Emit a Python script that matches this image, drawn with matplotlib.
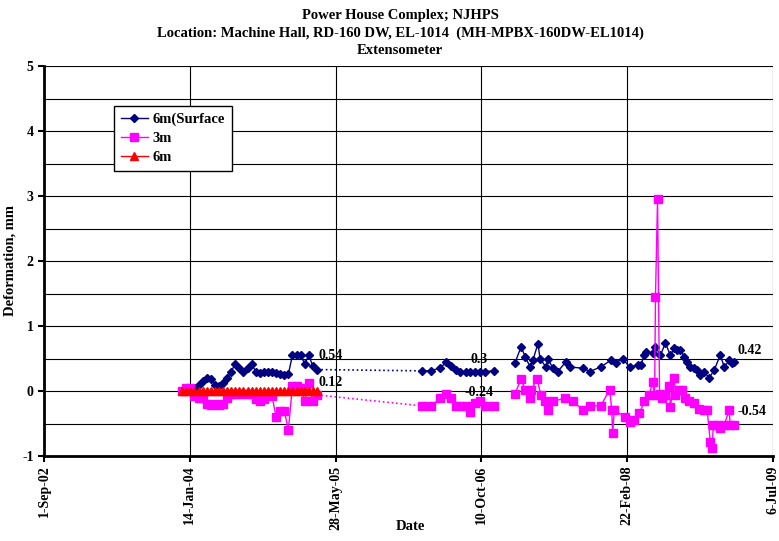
import numpy as np
import pandas as pd
import matplotlib as mpl
import matplotlib.pyplot as plt
import matplotlib.dates as mdates
from matplotlib.ticker import FuncFormatter

mpl.use('Agg')

plt.rcParams['font.family'] = ['Liberation Serif', 'DejaVu Serif']
plt.rcParams['font.weight'] = 'bold'
plt.rcParams['axes.unicode_minus'] = False

# readings, Dec-2003 .. Mar-2005 (all three series)
seg1_dates = ['2003-12-19', '2004-01-02', '2004-01-16', '2004-01-30', '2004-02-13', '2004-02-27',
              '2004-03-12', '2004-03-26', '2004-04-09', '2004-04-23', '2004-05-07', '2004-05-21',
              '2004-06-04', '2004-06-18', '2004-07-02', '2004-07-16', '2004-07-30', '2004-08-13',
              '2004-08-27', '2004-09-10', '2004-09-24', '2004-10-08', '2004-10-22', '2004-11-05',
              '2004-11-19', '2004-12-03', '2004-12-17', '2004-12-31', '2005-01-14', '2005-01-28',
              '2005-02-11', '2005-02-25', '2005-03-11', '2005-03-25']
seg1_surface = [0.0, 0.02, 0.03, 0.05, 0.1, 0.15, 0.2, 0.18, 0.1, 0.08, 0.13, 0.2,
                0.3, 0.42, 0.35, 0.3, 0.35, 0.42, 0.3, 0.28, 0.3, 0.3, 0.3, 0.28,
                0.26, 0.25, 0.26, 0.55, 0.55, 0.55, 0.42, 0.55, 0.38, 0.33]
seg1_3m = [0.0, 0.05, 0.05, -0.08, -0.1, -0.1, -0.2, -0.22, -0.2, -0.22, -0.2, -0.1,
           -0.05, -0.05, -0.05, -0.05, -0.05, -0.05, -0.12, -0.15, -0.12, -0.05, -0.08, -0.4,
           -0.3, -0.3, -0.6, 0.08, 0.08, 0.05, -0.15, 0.12, -0.15, -0.06]
seg1_6m = [0.0] * len(seg1_dates)

# readings, Mar-2006 .. Nov-2006
seg2_dates = ['2006-03-22', '2006-04-21', '2006-05-22', '2006-06-12', '2006-06-29', '2006-07-16',
              '2006-07-30', '2006-08-19', '2006-09-02', '2006-09-19', '2006-10-06', '2006-10-23',
              '2006-11-23']
seg2_surface = [0.31, 0.31, 0.36, 0.44, 0.38, 0.33, 0.3, 0.3, 0.3, 0.3, 0.3, 0.3, 0.31]
seg2_3m = [-0.23, -0.23, -0.11, -0.04, -0.11, -0.23, -0.23, -0.23, -0.33, -0.19, -0.16, -0.23, -0.23]

# readings, Feb-2007 .. Feb-2009
seg3_surface_dates = ['2007-02-02', '2007-02-23', '2007-03-09', '2007-03-26', '2007-04-05', '2007-04-22',
                      '2007-04-29', '2007-05-19', '2007-05-26', '2007-06-12', '2007-06-29', '2007-07-27',
                      '2007-08-09', '2007-09-23', '2007-10-17', '2007-11-23', '2007-12-27', '2008-01-13',
                      '2008-02-06', '2008-03-01', '2008-03-29', '2008-04-08', '2008-04-21', '2008-04-25',
                      '2008-05-19', '2008-05-29', '2008-06-15', '2008-07-02', '2008-07-19', '2008-08-02',
                      '2008-08-12', '2008-08-22', '2008-09-05', '2008-09-15', '2008-09-25', '2008-10-09',
                      '2008-10-19', '2008-10-29', '2008-11-12', '2008-11-29', '2008-12-16', '2009-01-06',
                      '2009-01-20', '2009-02-06', '2009-02-16', '2009-02-23']
seg3_surface = [0.43, 0.68, 0.53, 0.37, 0.48, 0.73, 0.5, 0.37, 0.5, 0.35, 0.3, 0.45,
                0.37, 0.35, 0.3, 0.37, 0.47, 0.43, 0.5, 0.37, 0.4, 0.4, 0.55, 0.6,
                0.58, 0.68, 0.55, 0.74, 0.55, 0.66, 0.63, 0.63, 0.53, 0.45, 0.37, 0.35,
                0.32, 0.25, 0.3, 0.2, 0.32, 0.55, 0.37, 0.47, 0.43, 0.45]
seg3_3m_dates = ['2007-02-02', '2007-02-23', '2007-03-09', '2007-03-26', '2007-03-29', '2007-04-19',
                 '2007-05-02', '2007-05-16', '2007-05-26', '2007-06-12', '2007-07-23', '2007-08-20',
                 '2007-09-23', '2007-10-17', '2007-11-23', '2007-12-24', '2007-12-31', '2008-01-03',
                 '2008-01-09', '2008-02-13', '2008-03-01', '2008-03-18', '2008-04-04', '2008-04-21',
                 '2008-05-08', '2008-05-19', '2008-05-26', '2008-05-29', '2008-06-05', '2008-06-12',
                 '2008-06-22', '2008-07-02', '2008-07-16', '2008-07-19', '2008-08-02', '2008-08-05',
                 '2008-08-19', '2008-08-29', '2008-09-08', '2008-09-22', '2008-10-09', '2008-10-26',
                 '2008-11-12', '2008-11-22', '2008-12-03', '2008-12-10', '2008-12-13', '2008-12-27',
                 '2009-01-06', '2009-01-20', '2009-02-06', '2009-02-09', '2009-02-23']
seg3_3m = [-0.04, 0.18, 0.02, -0.11, 0.02, 0.18, -0.06, -0.16, -0.29, -0.16, -0.11, -0.16,
           -0.29, -0.23, -0.23, 0.02, -0.29, -0.65, -0.29, -0.4, -0.47, -0.45, -0.34, -0.16,
           -0.06, 0.14, -0.06, 1.45, 2.95, -0.04, -0.11, -0.06, 0.07, -0.24, 0.2, -0.06,
           0.02, 0.02, -0.11, -0.16, -0.19, -0.27, -0.29, -0.29, -0.78, -0.88, -0.52, -0.52,
           -0.57, -0.52, -0.29, -0.52, -0.52]

# value labels (text, date, value)
labels = [('0.54', '2005-04-01', 0.55, 'left'), ('0.12', '2005-04-01', 0.13, 'left'),
          ('0.3', '2006-10-02', 0.49, 'center'), ('-0.24', '2006-10-02', -0.02, 'center'),
          ('0.42', '2009-03-05', 0.63, 'left'), ('-0.54', '2009-03-05', -0.32, 'left')]

tick_dates = ['2002-09-01', '2004-01-14', '2005-05-28', '2006-10-10', '2008-02-22', '2009-07-06']

blue = '#000080'
pink = '#FF00FF'
red = '#FF0000'

fig = plt.figure(figsize=(7.79, 5.41), dpi=100)
ax = fig.add_axes([44 / 779, 85 / 541, 729 / 779, 390 / 541])

d1 = pd.to_datetime(seg1_dates)
d2 = pd.to_datetime(seg2_dates)
d3s = pd.to_datetime(seg3_surface_dates)
d3m = pd.to_datetime(seg3_3m_dates)

# dotted links across the long gap
ax.plot([d1[-1], d2[0]], [seg1_surface[-1], seg2_surface[0]], ':', color=blue, lw=1.2, zorder=3)
ax.plot([d1[-1], d2[0]], [seg1_3m[-1], seg2_3m[0]], ':', color=pink, lw=1.2, zorder=3)

kw_s = dict(color=blue, marker='D', ms=4.5, lw=1, zorder=4)
kw_m = dict(color=pink, marker='s', ms=5.5, lw=1, zorder=5)
ax.plot(d1, seg1_surface, label='6m(Surface', **kw_s)
ax.plot(d2, seg2_surface, **kw_s)
ax.plot(d3s, seg3_surface, **kw_s)
ax.plot(d1, seg1_3m, label='3m', **kw_m)
ax.plot(d2, seg2_3m, **kw_m)
ax.plot(d3m, seg3_3m, **kw_m)
ax.plot(d1, seg1_6m, color=red, marker='^', ms=5.5, lw=1, zorder=6, label='6m')

for txt, d, v, ha in labels:
    ax.text(pd.Timestamp(d), v, txt, ha=ha, va='center', fontsize=10, fontweight='bold', zorder=7)

ax.set_xlim(pd.Timestamp(tick_dates[0]), pd.Timestamp(tick_dates[-1]))
ax.set_ylim(-1, 5)
ax.set_yticks(np.arange(-1, 6, 1))
ax.set_yticks(np.arange(-1, 5.5, 0.5), minor=True)
ax.set_xticks(pd.to_datetime(tick_dates))
ax.xaxis.set_major_formatter(FuncFormatter(lambda x, p: '{}-{}'.format(mdates.num2date(x).day, mdates.num2date(x).strftime('%b-%y'))))
ax.tick_params(axis='x', labelrotation=90, labelsize=10, length=4, width=1.5, direction='out', pad=3)
ax.tick_params(axis='y', which='major', labelsize=10, length=4, width=1.5, direction='out')
ax.tick_params(axis='y', which='minor', length=0)
for lab in ax.get_xticklabels() + ax.get_yticklabels():
    lab.set_fontweight('bold')

ax.grid(True, which='both', axis='y', color='black', lw=0.8)
ax.grid(True, which='major', axis='x', color='black', lw=0.8)
ax.set_axisbelow(True)
for s in ['top', 'right']:
    ax.spines[s].set_visible(False)
for s in ['left', 'bottom']:
    ax.spines[s].set_linewidth(2)

ax.set_ylabel('Deformation, mm', fontsize=10.5, fontweight='bold', labelpad=4)
fig.text(410 / 779, 1 - 527 / 541, 'Date', ha='center', va='center', fontsize=10.5, fontweight='bold')

leg = ax.legend(loc='upper left', bbox_to_anchor=(0.096, 0.897), fancybox=False, edgecolor='black',
                framealpha=1, prop={'weight': 'bold', 'size': 10.5}, handlelength=1.9, handletextpad=0.3,
                borderpad=0.45, labelspacing=0.4, borderaxespad=0)
leg.get_frame().set_linewidth(1)

fig.text(400 / 779, 1 - 15 / 541, 'Power House Complex; NJHPS', ha='center', va='center', fontsize=10.5, fontweight='bold')
fig.text(400 / 779, 1 - 33 / 541, 'Location: Machine Hall, RD-160 DW, EL-1014  (MH-MPBX-160DW-EL1014)',
         ha='center', va='center', fontsize=10.5, fontweight='bold')
fig.text(400 / 779, 1 - 51 / 541, 'Extensometer', ha='center', va='center', fontsize=10.5, fontweight='bold')

fig.savefig('out.png', dpi=100)
